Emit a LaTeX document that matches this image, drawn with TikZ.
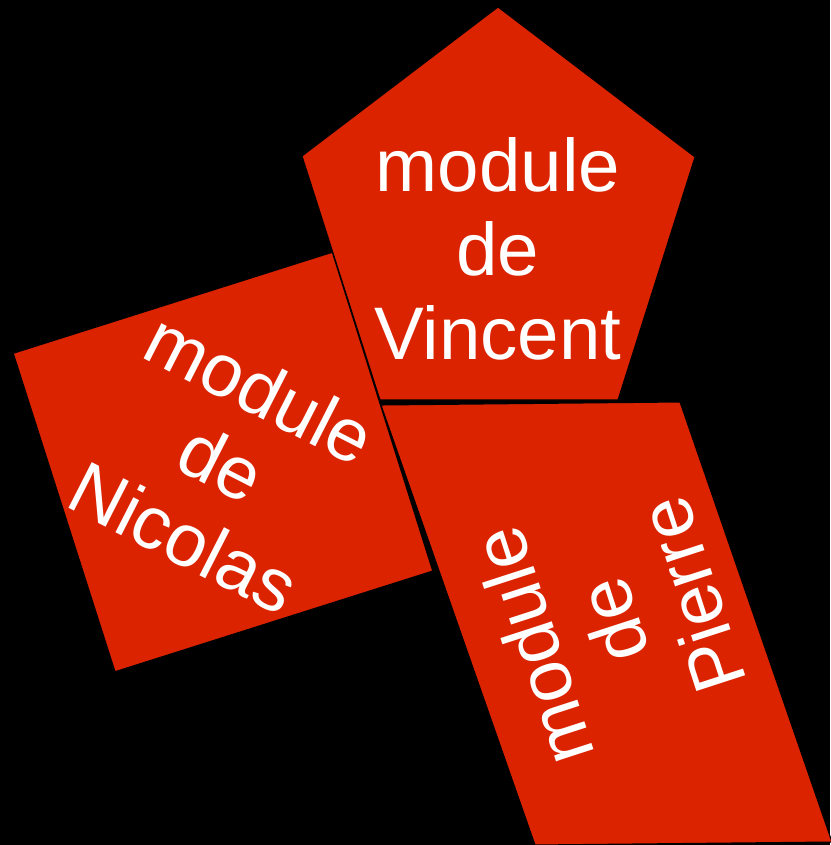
\documentclass[tikz,border=0pt]{standalone}
\usepackage{fontspec}
\setmainfont{Liberation Sans}
\definecolor{modred}{HTML}{DC2300}

\begin{document}
\begin{tikzpicture}[scale=0.1]
	\tikzset{every node/.style={inner sep=0pt},
		modtext/.style={text=white, align=center, font=\fontsize{21.2pt}{23.8pt}\selectfont},
		modshape/.style={fill=modred, draw=black, line width=0.3pt}}
	\useasboundingbox (0,0) rectangle (83,-84.5);
	\fill [black] (0,0) rectangle (83,-84.5);
	% pentagon
	\filldraw [modshape] (49.8,-0.7) -- (69.5,-15.7) -- (61.8,-40) -- (38,-40) -- (30.2,-15.6) -- cycle;
	\draw (49.8,-24.9) node [modtext] (vincent) {module\\de\\Vincent};
	% square
	\filldraw [modshape] (1.33,-35.33) -- (33.23,-25.23) -- (43.27,-57.1) -- (11.5,-67.17) -- cycle;
	\draw (22.2,-46.3) node [modtext, rotate=-27] (nicolas) {module\\de\\Nicolas};
	% parallelogram
	\filldraw [modshape] (38.1,-40.5) -- (68,-40.2) -- (83.2,-84.2) -- (53.5,-84.5) -- cycle;
	\draw (61.2,-62.1) node [modtext, rotate=108] (pierre) {module\\de\\Pierre};
\end{tikzpicture}
\end{document}
